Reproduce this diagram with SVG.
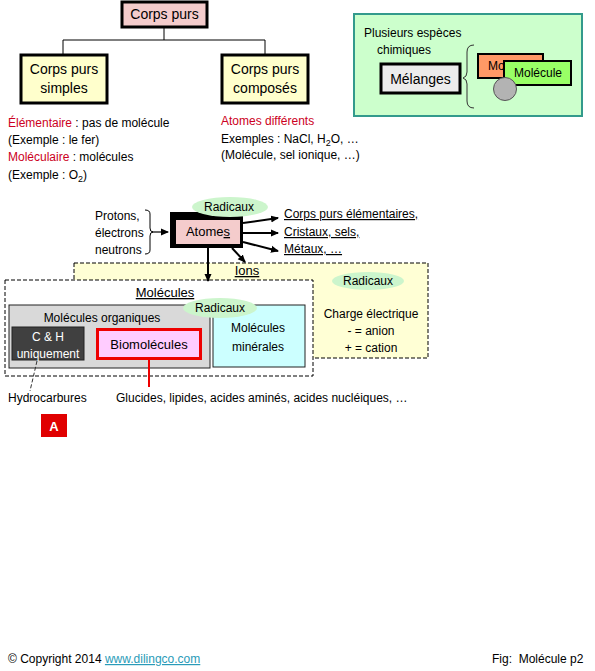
<svg xmlns="http://www.w3.org/2000/svg" width="595" height="671" viewBox="0 0 595 671">
<defs>
<marker id="ah" markerWidth="8" markerHeight="8" refX="7" refY="4" orient="auto" markerUnits="userSpaceOnUse">
<path d="M0,0.5 L8,4 L0,7.5 z" fill="#000"/>
</marker>
<style>
text{font-family:"Liberation Sans",Arial,sans-serif;font-size:12px;fill:#000}
.big{font-size:14px}
.mid{font-size:13px}
.red{fill:#cc0022}
.u{text-decoration:underline}
.c{text-anchor:middle}
.thick{stroke:#000;stroke-width:3}
.rad{fill:#ccf5cc}
.dash{stroke:#000;stroke-width:1;stroke-dasharray:4,2}
</style>
</defs>
<rect width="595" height="671" fill="#fff"/>

<g id="corps-purs">
<rect x="122" y="2" width="85" height="25" fill="#f4cccc" class="thick"/>
<text x="164.5" y="19" class="big c">Corps purs</text>
</g>

<g id="corps-purs-simples">
<rect x="21" y="55" width="86" height="48" fill="#ffffcc" class="thick"/>
<text x="64" y="74" class="big c">Corps purs</text>
<text x="64" y="93" class="big c">simples</text>
</g>

<g id="corps-purs-composes">
<rect x="222" y="55" width="86" height="48" fill="#ffffcc" class="thick"/>
<text x="265" y="74" class="big c">Corps purs</text>
<text x="265" y="93" class="big c">composés</text>
</g>

<g id="simples-text">
<text x="8" y="127"><tspan class="red">Élémentaire</tspan> : pas de molécule</text>
<text x="8" y="144">(Exemple : le fer)</text>
<text x="8" y="161"><tspan class="red">Moléculaire</tspan> : molécules</text>
<text x="8" y="179">(Exemple : O<tspan font-size="9" dy="3">2</tspan><tspan dy="-3">)</tspan></text>
</g>

<g id="composes-text">
<text x="221" y="125" class="red">Atomes différents</text>
<text x="221" y="143">Exemples : NaCl, H<tspan font-size="9" dy="3">2</tspan><tspan dy="-3">O, …</tspan></text>
<text x="221" y="159">(Molécule, sel ionique, …)</text>
</g>

<g id="melanges-panel">
<rect x="354" y="14" width="228" height="102" fill="#ccffcc" stroke="#339a8c" stroke-width="2"/>
<text x="364" y="37">Plusieurs espèces</text>
<text x="404" y="54" class="c">chimiques</text>
<rect x="381" y="64" width="79" height="29" fill="#ececec" class="thick"/>
<text x="420.5" y="84" class="big c">Mélanges</text>
<path d="M474,45 Q467,45 467,52 V72 Q467,77 463,78 Q467,79 467,84 V101 Q467,108 474,108" fill="none" stroke="#333" stroke-width="1"/>
<rect x="478" y="54" width="65" height="24" fill="#ff9966" stroke="#000" stroke-width="2"/>
<text x="488" y="70">Mo</text>
<rect x="504" y="61" width="67" height="24" fill="#99ff66" stroke="#000" stroke-width="2"/>
<text x="538" y="77" class="c">Molécule</text>
<circle cx="505" cy="89" r="11.5" fill="#b3b3b3" stroke="#555" stroke-width="1"/>
</g>

<g id="particules">
<text x="95" y="220">Protons,</text>
<text x="95" y="237">électrons</text>
<text x="95" y="254">neutrons</text>
<path d="M145,210 Q150,210 150,214 V228 Q150,232 153,232 Q150,232 150,236 V250 Q150,254 145,254" fill="none" stroke="#000" stroke-width="1"/>
</g>

<g id="ions">
<rect x="74" y="263" width="354" height="95" fill="#ffffd5" class="dash"/>
<text x="247" y="275" class="mid c u">Ions</text>
<ellipse cx="368" cy="281" rx="36" ry="9" class="rad"/>
<text x="368" y="285" class="c">Radicaux</text>
<text x="371" y="318" class="c">Charge électrique</text>
<text x="371" y="335" class="c">- = anion</text>
<text x="371" y="352" class="c">+ = cation</text>
</g>

<g id="atomes">
<rect x="170" y="212" width="73" height="36" fill="#000"/>
<rect x="176" y="220" width="64" height="24" fill="#f4cccc"/>
<ellipse cx="230" cy="207" rx="38" ry="10" class="rad"/>
<text x="229" y="211" class="c">Radicaux</text>
<text x="208" y="236" class="mid c">Atome<tspan class="u">s</tspan></text>
</g>

<g id="atomes-targets">
<text x="284" y="218" class="u">Corps purs élémentaires,</text>
<text x="284" y="236" class="u">Cristaux, sels,</text>
<text x="284" y="253" class="u">Métaux, …</text>
</g>

<g id="molecules">
<rect x="5" y="280" width="308" height="96" fill="#fff" class="dash"/>
<text x="165" y="297" class="mid c u">Molécules</text>
</g>

<g id="molecules-organiques">
<rect x="9" y="305" width="201" height="63" fill="#d9d9d9" stroke="#222" stroke-width="1"/>
<text x="102" y="322" class="c">Molécules organiques</text>
</g>

<g id="ch">
<rect x="12" y="327" width="72" height="33" fill="#404040" stroke="#222" stroke-width="1"/>
<text x="48" y="341" class="c" style="fill:#fff">C &amp; H</text>
<text x="48" y="358" class="c" style="fill:#fff">uniquement</text>
</g>

<g id="biomolecules">
<rect x="97.5" y="329.5" width="103" height="29" fill="#ffccff" stroke="#ee0000" stroke-width="3"/>
<text x="149" y="349" class="mid c">Biomolécules</text>
</g>

<g id="molecules-minerales">
<rect x="213" y="305" width="92" height="62" fill="#ccffff" stroke="#222" stroke-width="1"/>
<ellipse cx="220" cy="308" rx="37" ry="10" class="rad"/>
<text x="220" y="312" class="c">Radicaux</text>
<text x="258" y="332" class="c">Molécules</text>
<text x="258" y="351" class="c">minérales</text>
</g>

<g id="connectors" fill="none" stroke="#000">
<path d="M164,27 V40 M63,40 H265 M63,40 V55 M265,40 V55" stroke-width="1"/>
<path d="M152,232 H168" stroke-width="1.2" marker-end="url(#ah)"/>
<path d="M243,223 L278,218" stroke-width="2" marker-end="url(#ah)"/>
<path d="M243,233 H278" stroke-width="2" marker-end="url(#ah)"/>
<path d="M243,242 L278,251" stroke-width="2" marker-end="url(#ah)"/>
<path d="M208,248 V281" stroke-width="2" marker-end="url(#ah)"/>
<path d="M232,248 L245,262" stroke-width="2" marker-end="url(#ah)"/>
<path d="M149,360 V387" stroke="#ee0000" stroke-width="2"/>
<path d="M37,361 L30,391" stroke="#333" stroke-width="1" stroke-dasharray="4,2"/>
</g>

<g id="labels">
<text x="8" y="402">Hydrocarbures</text>
<text x="116" y="402">Glucides, lipides, acides aminés, acides nucléiques, …</text>
</g>

<g id="badge">
<rect x="41" y="414" width="26" height="23" fill="#e00000"/>
<text x="54" y="431" class="c" style="fill:#fff;font-weight:bold;font-size:13px">A</text>
</g>

<g id="footer">
<text x="8" y="663">© Copyright 2014 <tspan class="u" style="fill:#2a9bb8">www.dilingco.com</tspan></text>
<text x="492" y="663">Fig:&#160; Molécule p2</text>
</g>
</svg>
